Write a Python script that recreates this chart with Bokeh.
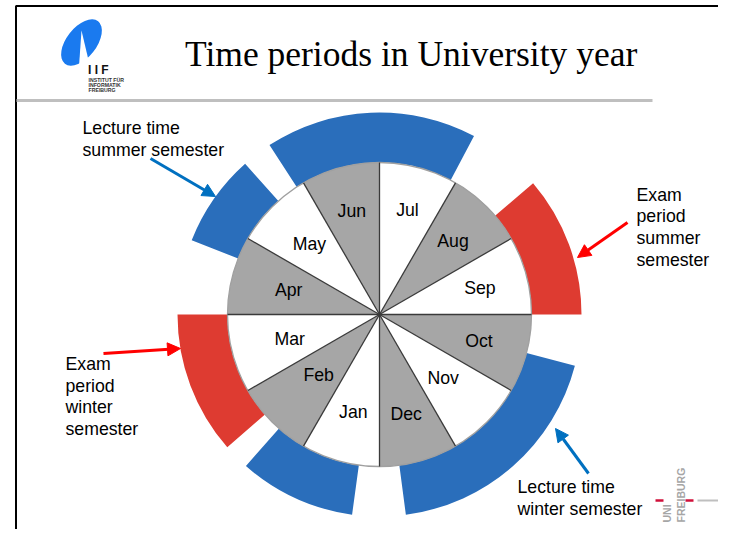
import numpy as np
from bokeh.plotting import figure
from bokeh.models import Range1d, Arrow, NormalHead
from bokeh.core.properties import value
from bokeh.embed import file_html
from bokeh.resources import INLINE

# ---------------- data ----------------
months = ["Jan", "Feb", "Mar", "Apr", "May", "Jun",
          "Jul", "Aug", "Sep", "Oct", "Nov", "Dec"]

# periods in month units (0 = 1 January, 12 = 31 December)
period_kind = ["lecture", "lecture", "exam", "lecture", "lecture", "exam"]
period_start = [3.72, 4.90, 7.65, 9.49, 0.26, 1.63]
period_end = [4.61, 6.93, 9.00, 11.75, 1.38, 3.00]

title = "Time periods in University year"
note_lecture_summer = ["Lecture time", "summer semester"]
note_exam_summer = ["Exam", "period", "summer", "semester"]
note_exam_winter = ["Exam", "period", "winter", "semester"]
note_lecture_winter = ["Lecture time", "winter semester"]

# ---------------- layout / style ----------------
W, H = 718, 529
def Y(ry):
    return 545 - ry

CX, CY = 379, Y(314)
R_PIE, R_IN, R_OUT = 152, 152, 202
label_r = [101, 86, 93, 94, 99, 107, 108, 104, 104, 103, 90, 103]

GRAY = "#A6A6A6"
BLUE = "#2A6EBB"
RED = "#DE3B31"
ARROW_BLUE = "#0070C0"
ARROW_RED = "#FF0000"
SANS = "Liberation Sans"
FS = "17.7px"

def ang(m):
    return np.deg2rad(270.0 - 30.0 * np.asarray(m, dtype=float))

p = figure(width=W, height=H, x_range=Range1d(0, W), y_range=Range1d(545 - H, 545),
           output_backend="svg", toolbar_location=None,
           x_axis_type=None, y_axis_type=None, min_border=0)
p.outline_line_color = None
p.background_fill_color = "white"
p.border_fill_color = "white"

# slide frame
p.line(x=[15.5, 15.5, 800], y=[Y(600), Y(5.5), Y(5.5)], line_color="black", line_width=2)
# title rule
p.line(x=[16, 652], y=[Y(100), Y(100)], line_color="#BFBFBF", line_width=3)

# title
p.text(x=[184.5], y=[Y(53)], text=[title], text_font=value("Liberation Serif"),
       text_font_size="35.5px", text_color="black", text_baseline="middle",
       text_align="left")

# ---------- IIF logo ----------
p.ellipse(x=[81], y=[Y(42)], width=54, height=30, angle=np.deg2rad(52),
          fill_color="#1A7AEF", line_color=None)
p.patch(x=[81, 78.5, 89.5], y=[Y(30), Y(66), Y(66)], fill_color="white", line_color=None)
p.text(x=[87.5], y=[Y(69.5)], text=["I I F"], text_font=value(SANS), text_font_style="bold",
       text_font_size="12px", text_color="#111111", text_baseline="middle")
for i, t in enumerate(["INSTITUT FÜR", "INFORMATIK", "FREIBURG"]):
    p.text(x=[88], y=[Y(79.5 + 5 * i)], text=[t], text_font=value(SANS),
           text_font_style="bold", text_font_size="5.2px", text_color="#333333",
           text_baseline="middle")

# ---------- UNI FREIBURG logo ----------
p.text(x=[666.5], y=[Y(522)], text=["UNI"], angle=np.pi / 2, text_font=value(SANS),
       text_font_style="bold", text_font_size="10.5px", text_color="#A6A6A6",
       text_baseline="middle", text_align="left")
p.text(x=[680], y=[Y(522)], text=["FREIBURG"], angle=np.pi / 2, text_font=value(SANS),
       text_font_style="bold", text_font_size="10.5px", text_color="#A6A6A6",
       text_baseline="middle", text_align="left")
p.segment(x0=[655, 685], y0=[Y(500)] * 2, x1=[663, 693], y1=[Y(500)] * 2,
          line_color="#D0103A", line_width=2.5)
p.segment(x0=[697], y0=[Y(500)], x1=[740], y1=[Y(500)], line_color="#BFBFBF", line_width=2)

# ---------- outer ring of periods ----------
ring_colors = [BLUE if k == "lecture" else RED for k in period_kind]
p.annular_wedge(x=CX, y=CY, inner_radius=R_IN, outer_radius=R_OUT,
                start_angle=ang(period_end), end_angle=ang(period_start),
                fill_color=ring_colors, line_color=None)

# ---------- month pie ----------
idx = np.arange(len(months))
fills = ["white" if i % 2 == 0 else GRAY for i in idx]
p.wedge(x=CX, y=CY, radius=R_PIE, start_angle=ang(idx + 1), end_angle=ang(idx),
        fill_color=fills, line_color=None)
p.circle(x=[CX], y=[CY], radius=R_PIE, fill_color=None, line_color="#A0A0A0", line_width=1.3)
a = ang(idx)
p.segment(x0=[CX] * 12, y0=[CY] * 12, x1=CX + R_PIE * np.cos(a), y1=CY + R_PIE * np.sin(a),
          line_color="#3A3A3A", line_width=1.3)

mid = ang(idx + 0.5)
p.text(x=CX + np.array(label_r) * np.cos(mid), y=CY + np.array(label_r) * np.sin(mid),
       text=months, text_font=value(SANS), text_font_size=FS, text_color="black",
       text_align="center", text_baseline="middle")

# ---------- annotations (y = visual centre of first line) ----------
def note(lines, x, y0, dy):
    for i, t in enumerate(lines):
        p.text(x=[x], y=[Y(y0 + i * dy)], text=[t], text_font=value(SANS),
               text_font_size=FS, text_color="black", text_align="left",
               text_baseline="middle")

note(note_lecture_summer, 82, 127, 22)
note(note_exam_summer, 636, 194, 21.7)
note(note_exam_winter, 65, 363.5, 21.7)
note(note_lecture_winter, 517, 486.5, 22)

def arrow(x0, y0, x1, y1, c):
    p.add_layout(Arrow(end=NormalHead(size=13, fill_color=c, line_color=c, line_width=1),
                       x_start=x0, y_start=Y(y0), x_end=x1, y_end=Y(y1),
                       line_color=c, line_width=3))

arrow(150, 158, 215, 196, ARROW_BLUE)
arrow(627, 222, 577, 257, ARROW_RED)
arrow(103, 353, 180, 348, ARROW_RED)
arrow(588, 473, 555, 428, ARROW_BLUE)

open("out.html", "w").write(file_html(p, INLINE))
